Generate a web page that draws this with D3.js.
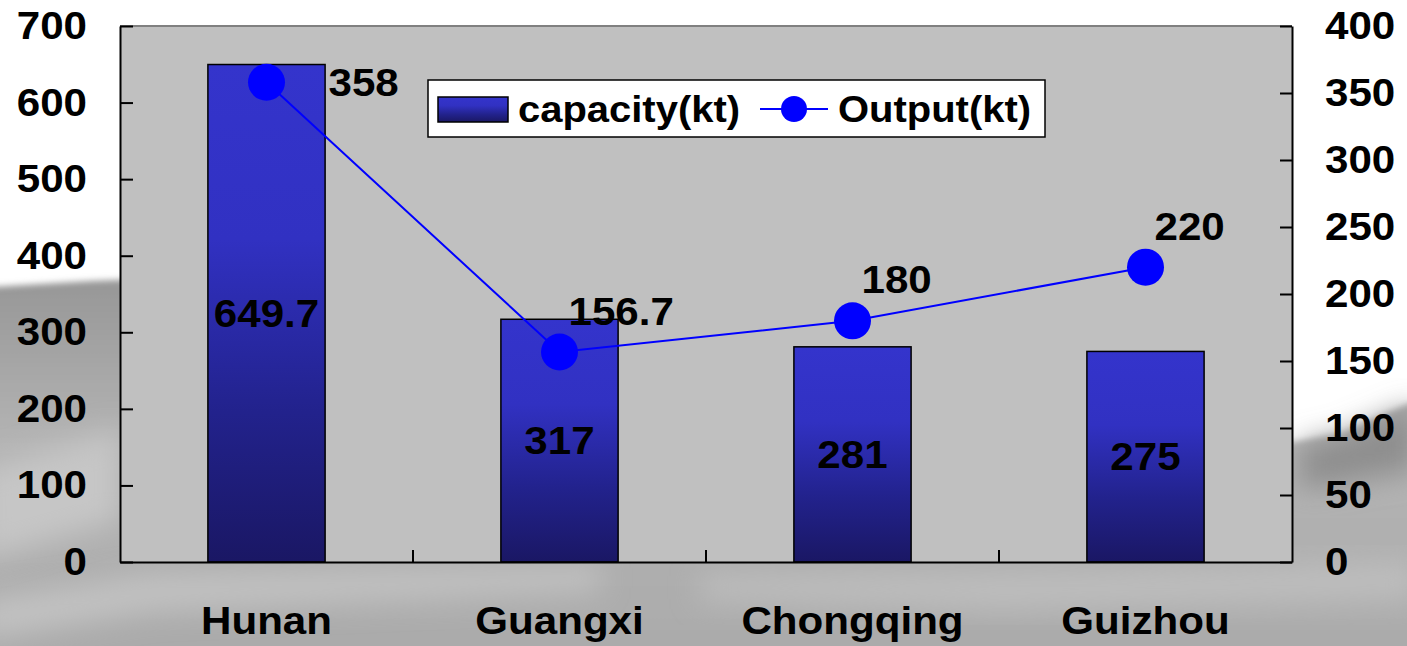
<!DOCTYPE html>
<html lang="en">
<head>
<meta charset="UTF-8">
<script src="https://d3js.org/d3.v7.min.js"></script>
<style>
  html, body { margin: 0; padding: 0; background: #fff; }
  svg text { font-family: "Liberation Sans", Arial, sans-serif; font-weight: bold; fill: #000; }
</style>
</head>
<body>
<div id="chart"></div>
<script>
var categories = ["Hunan", "Guangxi", "Chongqing", "Guizhou"];
var capacity = [649.7, 317, 281, 275];
var output = [358, 156.7, 180, 220];
var leftTicks = [0, 100, 200, 300, 400, 500, 600, 700];
var rightTicks = [0, 50, 100, 150, 200, 250, 300, 350, 400];
var seriesNames = ["capacity(kt)", "Output(kt)"];

var W = 1407, H = 646;
var margin = {top: 26, right: 115, bottom: 84, left: 120};
var width = W - margin.left - margin.right;
var height = H - margin.top - margin.bottom;
var fs = 39;

var svg = d3.select("#chart").append("svg")
    .attr("width", W)
    .attr("height", H);

var defs = svg.append("defs");
var grad = defs.append("linearGradient")
    .attr("id", "barGrad")
    .attr("x1", 0).attr("y1", 0).attr("x2", 0).attr("y2", 1);
grad.append("stop").attr("offset", "0").attr("stop-color", "#3434cc");
grad.append("stop").attr("offset", "0.35").attr("stop-color", "#3131c2");
grad.append("stop").attr("offset", "0.7").attr("stop-color", "#22228c");
grad.append("stop").attr("offset", "1").attr("stop-color", "#1a1764");

var hill = defs.append("linearGradient")
    .attr("id", "hillGrad")
    .attr("gradientUnits", "userSpaceOnUse")
    .attr("x1", 0).attr("y1", 280).attr("x2", 0).attr("y2", 646);
hill.append("stop").attr("offset", "0").attr("stop-color", "#979797");
hill.append("stop").attr("offset", "0.45").attr("stop-color", "#b4b4b4");
hill.append("stop").attr("offset", "1").attr("stop-color", "#ababab");

defs.append("filter").attr("id", "blur")
    .attr("x", "-20%").attr("y", "-20%").attr("width", "140%").attr("height", "140%")
  .append("feGaussianBlur").attr("stdDeviation", 3);
defs.append("filter").attr("id", "blurBig")
    .attr("x", "-30%").attr("y", "-30%").attr("width", "160%").attr("height", "160%")
  .append("feGaussianBlur").attr("stdDeviation", 14);

// misty landscape behind the chart
var bg = svg.append("g");
bg.append("path")
    .attr("d", "M-10,287 L40,284 L90,281 L140,279 L700,330 L1292,442 L1340,434 L1380,416 L1417,400 L1417,660 L-10,660 Z")
    .attr("fill", "url(#hillGrad)")
    .attr("filter", "url(#blur)");
bg.append("path")
    .attr("d", "M1300,444 L1340,436 L1417,404 L1417,470 L1300,490 Z")
    .attr("fill", "#8e8e8e")
    .attr("filter", "url(#blurBig)");
bg.append("path")
    .attr("d", "M-20,470 L120,430 L120,520 L-20,560 Z")
    .attr("fill", "#c6c6c6")
    .attr("filter", "url(#blurBig)");
bg.append("path")
    .attr("d", "M-20,600 L150,575 L600,566 L600,590 L150,610 L-20,640 Z")
    .attr("fill", "#c2c2c2")
    .attr("filter", "url(#blurBig)");
bg.append("path")
    .attr("d", "M700,575 L1100,570 L1417,560 L1417,600 L1000,610 L700,600 Z")
    .attr("fill", "#bdbdbd")
    .attr("filter", "url(#blurBig)");

var g = svg.append("g")
    .attr("transform", "translate(" + margin.left + "," + margin.top + ")");

var x = d3.scaleBand()
    .domain(categories)
    .range([0, width])
    .paddingInner(0.6)
    .paddingOuter(0.3);

var yL = d3.scaleLinear().domain([0, 700]).range([height, 0]);
var yR = d3.scaleLinear().domain([0, 400]).range([height, 0]);

// plot area
g.append("rect")
    .attr("width", width)
    .attr("height", height)
    .attr("fill", "#c0c0c0");
g.append("line")
    .attr("x1", 0).attr("x2", width)
    .attr("y1", 0).attr("y2", 0)
    .attr("stroke", "#808080")
    .attr("stroke-width", 2);

function wide(sel, origin) {
  sel.style("transform-box", "fill-box")
     .style("transform-origin", origin)
     .style("transform", "scaleX(1.08)");
}

// bars
var capData = categories.map(function(c, i) { return {group: c, value: capacity[i]}; });
var outData = categories.map(function(c, i) { return {group: c, value: output[i]}; });

g.selectAll("rect.bar")
    .data(capData)
  .enter().append("rect")
    .attr("class", "bar")
    .attr("x", function(d) { return x(d.group); })
    .attr("y", function(d) { return yL(d.value); })
    .attr("width", x.bandwidth())
    .attr("height", function(d) { return height - yL(d.value); })
    .attr("fill", "url(#barGrad)")
    .attr("stroke", "#000")
    .attr("stroke-width", 1.5);

g.selectAll("text.barLabel")
    .data(capData)
  .enter().append("text")
    .attr("class", "barLabel")
    .attr("x", function(d) { return x(d.group) + x.bandwidth() / 2; })
    .attr("y", function(d) { return (yL(d.value) + height) / 2; })
    .attr("dy", "0.35em")
    .attr("text-anchor", "middle")
    .style("font-size", fs + "px")
    .text(function(d) { return d.value; })
    .call(wide, "center");

// axes
var axL = g.append("g")
    .call(d3.axisLeft(yL).tickValues(leftTicks).tickSizeInner(-13).tickSizeOuter(0).tickPadding(33));
var axR = g.append("g")
    .attr("transform", "translate(" + width + ",0)")
    .call(d3.axisRight(yR).tickValues(rightTicks).tickSizeInner(-12).tickSizeOuter(0).tickPadding(33));
var axB = g.append("g")
    .attr("transform", "translate(0," + height + ")")
    .call(d3.axisBottom(x).tickSize(0).tickPadding(44));

[axL, axR, axB].forEach(function(a) {
  a.select(".domain").attr("stroke", "#000").attr("stroke-width", 2);
  a.selectAll(".tick line").attr("stroke", "#000").attr("stroke-width", 2);
  a.selectAll("text").style("font-size", fs + "px").attr("fill", "#000");
});
axL.selectAll("text").call(wide, "right center");
axR.selectAll("text").call(wide, "left center");
axB.selectAll("text").call(wide, "center");

// category boundary ticks
g.append("g").selectAll("line")
    .data(categories.slice(1))
  .enter().append("line")
    .attr("x1", function(d) { return x(d) - x.step() * x.paddingInner() / 2; })
    .attr("x2", function(d) { return x(d) - x.step() * x.paddingInner() / 2; })
    .attr("y1", height)
    .attr("y2", height - 12)
    .attr("stroke", "#000")
    .attr("stroke-width", 2);

// output line
var cx = function(d) { return x(d.group) + x.bandwidth() / 2; };
var line = d3.line()
    .x(cx)
    .y(function(d) { return yR(d.value); });

g.append("path")
    .datum(outData)
    .attr("d", line)
    .attr("fill", "none")
    .attr("stroke", "#0000ff")
    .attr("stroke-width", 2);

g.selectAll("circle.pt")
    .data(outData)
  .enter().append("circle")
    .attr("class", "pt")
    .attr("cx", cx)
    .attr("cy", function(d) { return yR(d.value); })
    .attr("r", 18.5)
    .attr("fill", "#0000ff");

// labels go above the marker, or to its right when there is no room above
g.selectAll("text.ptLabel")
    .data(outData)
  .enter().append("text")
    .attr("class", "ptLabel")
    .style("font-size", fs + "px")
    .attr("text-anchor", "start")
    .each(function(d) {
      var px = cx(d), py = yR(d.value);
      var t = d3.select(this);
      if (py < 80) {
        t.attr("x", px + 62).attr("y", py).attr("dy", "0.35em");
      } else {
        t.attr("x", px + 9).attr("y", py - 41).attr("dy", "0.35em");
      }
    })
    .text(function(d) { return d.value; })
    .call(wide, "left center");

// legend
var leg = g.append("g")
    .attr("transform", "translate(" + (428 - margin.left) + "," + (80 - margin.top) + ")");
leg.append("rect")
    .attr("width", 617)
    .attr("height", 57)
    .attr("fill", "#fff")
    .attr("stroke", "#000")
    .attr("stroke-width", 1.5);
leg.append("rect")
    .attr("x", 10).attr("y", 17)
    .attr("width", 70).attr("height", 25)
    .attr("fill", "url(#barGrad)")
    .attr("stroke", "#000")
    .attr("stroke-width", 1.5);
leg.append("text")
    .attr("x", 90).attr("y", 29).attr("dy", "0.35em")
    .style("font-size", "37px")
    .text(seriesNames[0])
    .call(wide, "left center");
leg.append("line")
    .attr("x1", 332).attr("x2", 400)
    .attr("y1", 29).attr("y2", 29)
    .attr("stroke", "#0000ff")
    .attr("stroke-width", 2);
leg.append("circle")
    .attr("cx", 366).attr("cy", 29).attr("r", 13)
    .attr("fill", "#0000ff");
leg.append("text")
    .attr("x", 410).attr("y", 29).attr("dy", "0.35em")
    .style("font-size", "37px")
    .text(seriesNames[1])
    .call(wide, "left center");
</script>
</body>
</html>
